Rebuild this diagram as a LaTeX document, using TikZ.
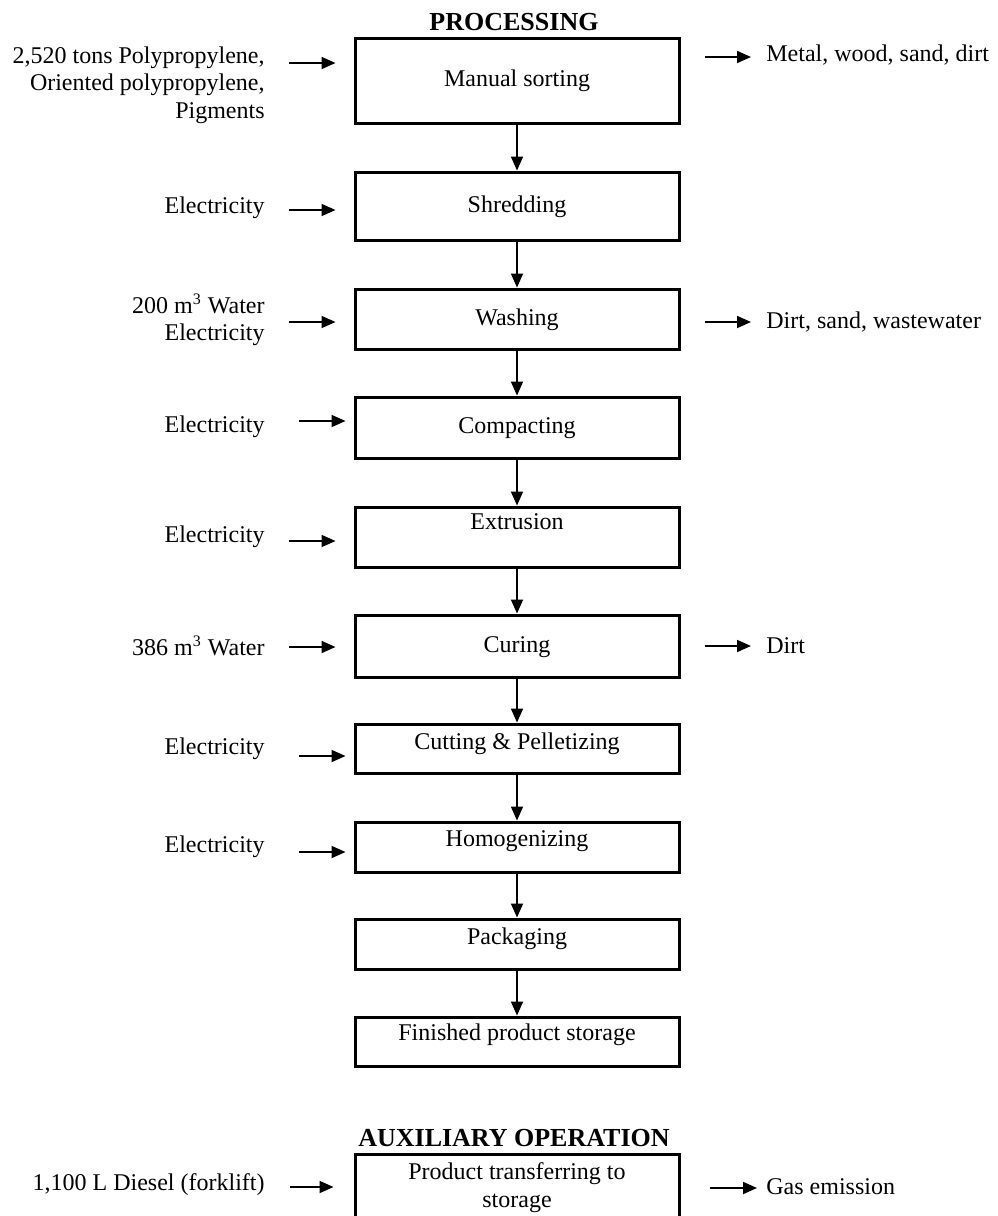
\documentclass[tikz,border=0pt]{standalone}
\usepackage{fontspec}
\setmainfont{Liberation Serif}
\usepackage{tikz}
\usetikzlibrary{positioning}
\usetikzlibrary{arrows.meta, calc}
\tikzstyle{box} = [rectangle, draw=black, line width=1.5pt, minimum width=162pt, inner sep=0pt, align=center]
\tikzstyle{stage} = [box, text height=8.5pt, text depth=2.5pt]
\tikzstyle{arrow} = [line width=0.9pt, -{Triangle[length=7pt,width=6pt]}]
\tikzstyle{feed} = [align=right, anchor=east, inner sep=0pt]
\tikzstyle{waste} = [anchor=west, inner sep=0pt]
\tikzstyle{head} = [font=\fontsize{13}{15}\selectfont\bfseries]

\begin{document}
\begin{tikzpicture}[x=0.5pt, y=-0.5pt, every node/.style={font=\fontsize{12}{13.8}\selectfont}]
\useasboundingbox (0,0) rectangle (997,1216);
\node[head] (proc) at (514,22) {PROCESSING};
\node[stage, minimum height=42.5pt] (sort) at (517,80.5) {Manual sorting};
\node[stage, minimum height=34pt] (shred) at (517,206) {Shredding};
\node[stage, minimum height=30pt] (wash) at (517,319) {Washing};
\node[stage, minimum height=30.5pt] (compact) at (517,427.5) {Compacting};
\node[stage, minimum height=30pt, text depth=16.5pt] (extrude) at (517,537) {Extrusion};
\node[stage, minimum height=31pt] (cure) at (517,646) {Curing};
\node[stage, minimum height=24.5pt, text depth=8pt] (cut) at (517,748.5) {Cutting \& Pelletizing};
\node[stage, minimum height=25pt, text depth=9.5pt] (homog) at (517,847) {Homogenizing};
\node[stage, minimum height=25pt, text depth=8.5pt] (pack) at (517,944) {Packaging};
\node[stage, minimum height=24.5pt, text depth=10pt] (store) at (517,1041.5) {Finished product storage};
\node[head] (aux) at (514,1138) {AUXILIARY OPERATION};
\node[box, minimum height=33pt, anchor=north] (transfer) at (517,1153) {Product transferring to\\storage};
% inputs
\node[feed] (in1) at (265,85) {2,520 tons Polypropylene,\\Oriented polypropylene,\\Pigments};
\node[feed] (in2) at (265,208) {Electricity};
\node[feed] (in3) at (265,320) {200 m\textsuperscript{3} Water\\Electricity};
\node[feed] (in4) at (265,427) {Electricity};
\node[feed] (in5) at (265,537) {Electricity};
\node[feed] (in6) at (265,646) {386 m\textsuperscript{3} Water};
\node[feed] (in7) at (265,749) {Electricity};
\node[feed] (in8) at (265,847) {Electricity};
\node[feed] (in9) at (265,1185) {1,100 L Diesel (forklift)};
% outputs
\node[waste] (out1) at (766,55) {Metal, wood, sand, dirt};
\node[waste] (out2) at (766,322) {Dirt, sand, wastewater};
\node[waste] (out3) at (766,646) {Dirt};
\node[waste] (out4) at (766,1187) {Gas emission};
\coordinate (a1) at (289,63);
\coordinate (a2) at (289,210);
\coordinate (a3) at (289,322);
\coordinate (a4) at (299,421);
\coordinate (a5) at (289,541);
\coordinate (a6) at (289,647);
\coordinate (a7) at (299,756);
\coordinate (a8) at (299,852);
\coordinate (a9) at (290,1187);
\coordinate (b1) at (751,57);
\coordinate (b2) at (751,322);
\coordinate (b3) at (751,646);
\coordinate (b4) at (757,1188);
\draw[arrow] (sort)--(shred);
\draw[arrow] (shred)--(wash);
\draw[arrow] (wash)--(compact);
\draw[arrow] (compact)--(extrude);
\draw[arrow] (extrude)--(cure);
\draw[arrow] (cure)--(cut);
\draw[arrow] (cut)--(homog);
\draw[arrow] (homog)--(pack);
\draw[arrow] (pack)--(store);
\draw[arrow, shorten >=9pt] (a1)--(sort.west |- a1);
\draw[arrow, shorten >=9pt] (a2)--(shred.west |- a2);
\draw[arrow, shorten >=9pt] (a3)--(wash.west |- a3);
\draw[arrow, shorten >=4pt] (a4)--(compact.west |- a4);
\draw[arrow, shorten >=9pt] (a5)--(extrude.west |- a5);
\draw[arrow, shorten >=9pt] (a6)--(cure.west |- a6);
\draw[arrow, shorten >=4pt] (a7)--(cut.west |- a7);
\draw[arrow, shorten >=4pt] (a8)--(homog.west |- a8);
\draw[arrow, shorten >=10pt] (a9)--(transfer.west |- a9);
\draw[arrow, shorten <=12pt] (sort.east |- b1)--(b1);
\draw[arrow, shorten <=12pt] (wash.east |- b2)--(b2);
\draw[arrow, shorten <=12pt] (cure.east |- b3)--(b3);
\draw[arrow, shorten <=14.5pt] (transfer.east |- b4)--(b4);
\end{tikzpicture}
\end{document}
